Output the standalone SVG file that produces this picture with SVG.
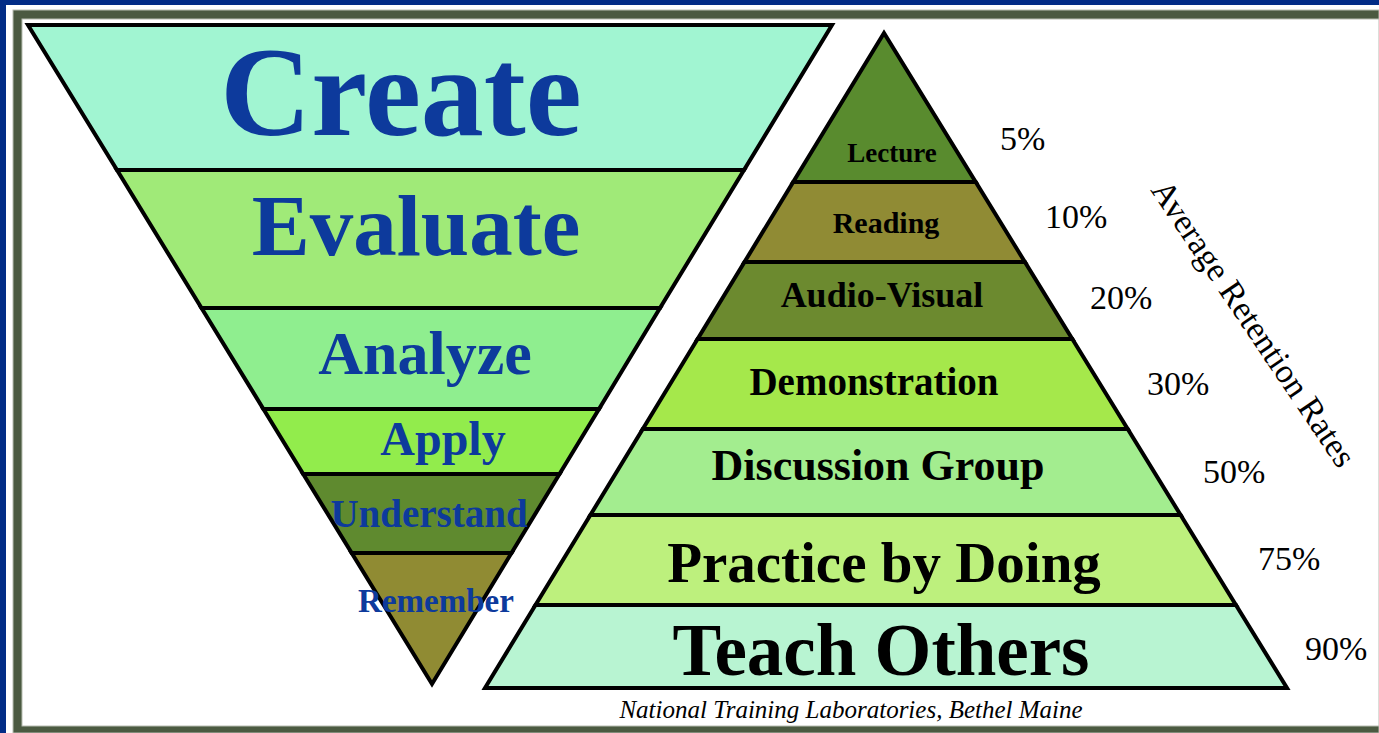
<svg xmlns="http://www.w3.org/2000/svg" width="1379" height="733" viewBox="0 0 1379 733">
<style>
.band{stroke:#000;stroke-width:4;stroke-linejoin:miter}
.bl{font-family:"Liberation Serif","Times New Roman",serif;font-weight:bold;fill:#0d3a9c;text-anchor:middle}
.bk{font-family:"Liberation Serif","Times New Roman",serif;font-weight:bold;fill:#000;text-anchor:middle}
.pc{font-family:"Liberation Serif","Times New Roman",serif;fill:#000;font-size:34px}
</style>
<g id="frame">
<rect x="0" y="0" width="1379" height="733" fill="#022c86"/>
<rect x="6" y="5" width="1373" height="728" fill="#fff"/>
<rect x="13" y="10" width="1366" height="723" fill="#4b5a41" stroke="#b8bdb2" stroke-width="1"/>
<rect x="22" y="19" width="1357" height="707" fill="#fff" stroke="#b8bdb2" stroke-width="1"/>
</g>
<g id="blooms">
<g id="create"><polygon class="band" points="28,25 832,25 744,170 117,170" fill="#a1f5d2"/><text class="bl" x="401" y="135" font-size="126">Create</text></g>
<g id="evaluate"><polygon class="band" points="117,170 744,170 660,308 201.5,308" fill="#a0ea78"/><text class="bl" x="416" y="255" font-size="87">Evaluate</text></g>
<g id="analyze"><polygon class="band" points="201.5,308 660,308 599,409 263.4,409" fill="#8fee8f"/><text class="bl" x="425" y="374" font-size="62">Analyze</text></g>
<g id="apply"><polygon class="band" points="263.4,409 599,409 559.5,474 303.2,474" fill="#92ec4c"/><text class="bl" x="443" y="455" font-size="48">Apply</text></g>
<g id="understand"><polygon class="band" points="303.2,474 559.5,474 511.5,553 351.7,553" fill="#5f8a2f"/><text class="bl" x="429" y="527" font-size="39">Understand</text></g>
<g id="remember"><polygon class="band" points="351.7,553 511.5,553 432,684" fill="#908b33"/><text class="bl" x="436" y="612" font-size="33" fill="#1a3fa6">Remember</text></g>
</g>
<g id="pyramid">
<g id="lecture"><polygon class="band" points="884,33 975.7,182 793.2,182" fill="#598b2e"/><text class="bk" x="892" y="162" font-size="27">Lecture</text></g>
<g id="reading"><polygon class="band" points="793.2,182 975.7,182 1024.9,262 744.5,262" fill="#908b34"/><text class="bk" x="886" y="233" font-size="30">Reading</text></g>
<g id="audiovisual"><polygon class="band" points="744.5,262 1024.9,262 1072.3,339 697.6,339" fill="#6c8a2f"/><text class="bk" x="882" y="307" font-size="36">Audio-Visual</text></g>
<g id="demonstration"><polygon class="band" points="697.6,339 1072.3,339 1127.7,429 642.8,429" fill="#a5e84b"/><text class="bk" x="874" y="395" font-size="39">Demonstration</text></g>
<g id="discussion"><polygon class="band" points="642.8,429 1127.7,429 1180.6,515 590.4,515" fill="#a3ed8f"/><text class="bk" x="878" y="480" font-size="44">Discussion Group</text></g>
<g id="practice"><polygon class="band" points="590.4,515 1180.6,515 1235.9,605 535.5,605" fill="#bdf07d"/><text class="bk" x="884" y="582" font-size="57">Practice by Doing</text></g>
<g id="teach"><polygon class="band" points="535.5,605 1235.9,605 1287,688 485,688" fill="#b8f4d2"/><text class="bk" x="881" y="675" font-size="73">Teach Others</text></g>
</g>
<g id="rates">
<text class="pc" x="1000" y="150">5%</text>
<text class="pc" x="1045" y="228">10%</text>
<text class="pc" x="1090" y="309">20%</text>
<text class="pc" x="1147" y="395">30%</text>
<text class="pc" x="1203" y="483">50%</text>
<text class="pc" x="1258" y="570">75%</text>
<text class="pc" x="1305" y="660">90%</text>
<text class="pc" font-size="35" transform="translate(1150,190) rotate(56)">Average Retention Rates</text>
</g>
<text id="caption" x="851" y="718" font-family="'Liberation Serif','Times New Roman',serif" font-style="italic" font-size="25" fill="#000" text-anchor="middle">National Training Laboratories, Bethel Maine</text>
</svg>
